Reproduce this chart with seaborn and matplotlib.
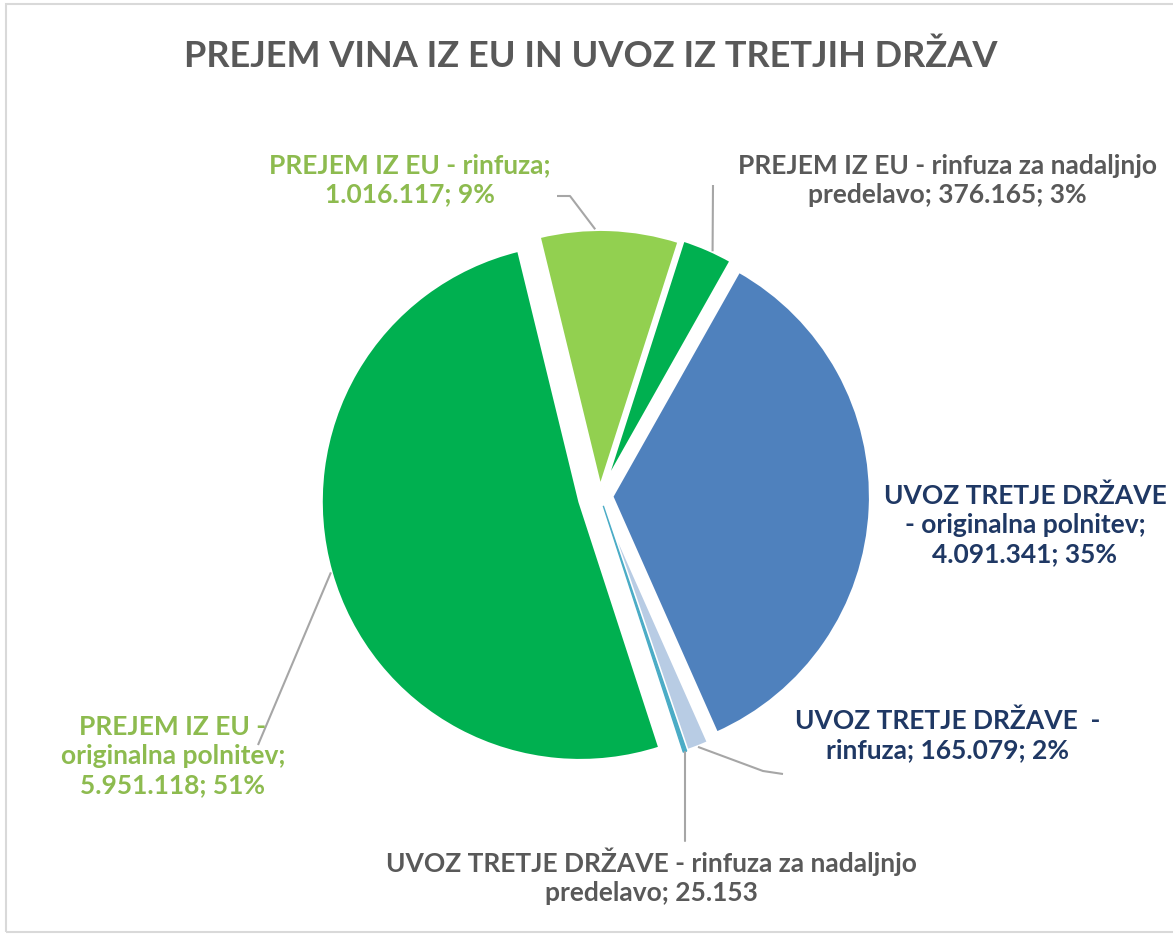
import numpy as np
import matplotlib
matplotlib.use("Agg")
import matplotlib.pyplot as plt
import seaborn as sns
from matplotlib.patches import Rectangle

# data
categories = [
    "PREJEM IZ EU - originalna polnitev",
    "PREJEM IZ EU - rinfuza",
    "PREJEM IZ EU - rinfuza za nadaljnjo predelavo",
    "UVOZ TRETJE DRŽAVE - originalna polnitev",
    "UVOZ TRETJE DRŽAVE  - rinfuza",
    "UVOZ TRETJE DRŽAVE - rinfuza za nadaljnjo predelavo",
]
values = [5951118, 1016117, 376165, 4091341, 165079, 25153]
value_labels = ["5.951.118", "1.016.117", "376.165", "4.091.341", "165.079", "25.153"]
pct_labels = ["51%", "9%", "3%", "35%", "2%", ""]
colors = ["#00B050", "#92D050", "#00B050", "#4F81BD", "#B8CCE4", "#4BACC6"]
explode = [0.08, 0.03, 0.04, 0.045, 0.04, 0.04]

W, H = 1173, 937
CX, CY, R = 600, 497, 259   # pie centre / radius in pixels


def px(x, y):
    return (x - CX) / R, (CY - y) / R


sns.set_theme(style="white")
plt.rcParams["font.family"] = ["Lato", "DejaVu Sans"]

fig = plt.figure(figsize=(W / 100, H / 100), dpi=100)
ax = fig.add_axes([0, 0, 1, 1])

wedges, _ = ax.pie(values, colors=colors, explode=explode, startangle=-72,
                   counterclock=False, radius=1,
                   wedgeprops=dict(edgecolor="white", linewidth=2.5))
# keep the tiny slice visible
wedges[5].set_edgecolor(colors[5])
wedges[5].set_linewidth(1.0)
ax.set_xlim(px(0, 0)[0], px(W, 0)[0])
ax.set_ylim(px(0, H)[1], px(0, 0)[1])
ax.axis("off")

light_green = "#8DBB4F"
gray = "#595959"
navy = "#1F3864"
lead = "#A6A6A6"


def arc_point(w, frac=0.5):
    ang = np.deg2rad(w.theta1 + (w.theta2 - w.theta1) * frac)
    cx, cy = w.center
    return cx + w.r * np.cos(ang), cy + w.r * np.sin(ang)


def leader(w, pts, frac=0.5):
    x0, y0 = arc_point(w, frac)
    xs = [x0] + [px(*p)[0] for p in pts]
    ys = [y0] + [px(*p)[1] for p in pts]
    ax.plot(xs, ys, color=lead, lw=1.5, solid_capstyle="butt")


label_font = dict(fontsize=19, fontweight="bold", ha="center", va="center",
                  linespacing=1.25)

# PREJEM originalna polnitev
ax.text(*px(173, 756), f"PREJEM IZ EU -\noriginalna polnitev;\n{value_labels[0]}; {pct_labels[0]}",
        color=light_green, **label_font)
leader(wedges[0], [(258, 746)])

# PREJEM rinfuza
ax.text(*px(410, 180), f"PREJEM IZ EU - rinfuza;\n{value_labels[1]}; {pct_labels[1]}",
        color=light_green, **label_font)
leader(wedges[1], [(570, 197), (557, 197)], frac=0.6)

# PREJEM rinfuza za nadaljnjo predelavo
ax.text(*px(947, 181), f"PREJEM IZ EU - rinfuza za nadaljnjo\npredelavo; {value_labels[2]}; {pct_labels[2]}",
        color=gray, **label_font)
leader(wedges[2], [(713, 186)], frac=0.4)

# UVOZ originalna polnitev
ax.text(*px(1025, 525), f"UVOZ TRETJE DRŽAVE\n- originalna polnitev;\n{value_labels[3]}; {pct_labels[3]}",
        color=navy, **label_font)

# UVOZ rinfuza
ax.text(*px(948, 735), f"UVOZ TRETJE DRŽAVE  -\nrinfuza; {value_labels[4]}; {pct_labels[4]}",
        color=navy, **label_font)
leader(wedges[4], [(763, 772), (783, 775)])

# UVOZ rinfuza za nadaljnjo predelavo
ax.text(*px(651, 876), f"UVOZ TRETJE DRŽAVE - rinfuza za nadaljnjo\npredelavo; {value_labels[5]}",
        color=gray, **label_font)
xt, yt = arc_point(wedges[5])
ax.plot([xt, xt], [yt, px(0, 842)[1]], color=lead, lw=1.5)

fig.text(591 / W, 1 - 56 / H, "PREJEM VINA IZ EU IN UVOZ IZ TRETJIH DRŽAV",
         fontsize=26, fontweight="bold", color=gray, ha="center", va="center")

fig.patches.append(Rectangle((6 / W, 1 - 933 / H), (W + 10 - 6) / W, (933 - 5) / H,
                             transform=fig.transFigure, fill=False,
                             edgecolor="#D9D9D9", lw=1.5))

fig.savefig("out.png", dpi=100, facecolor="white")
